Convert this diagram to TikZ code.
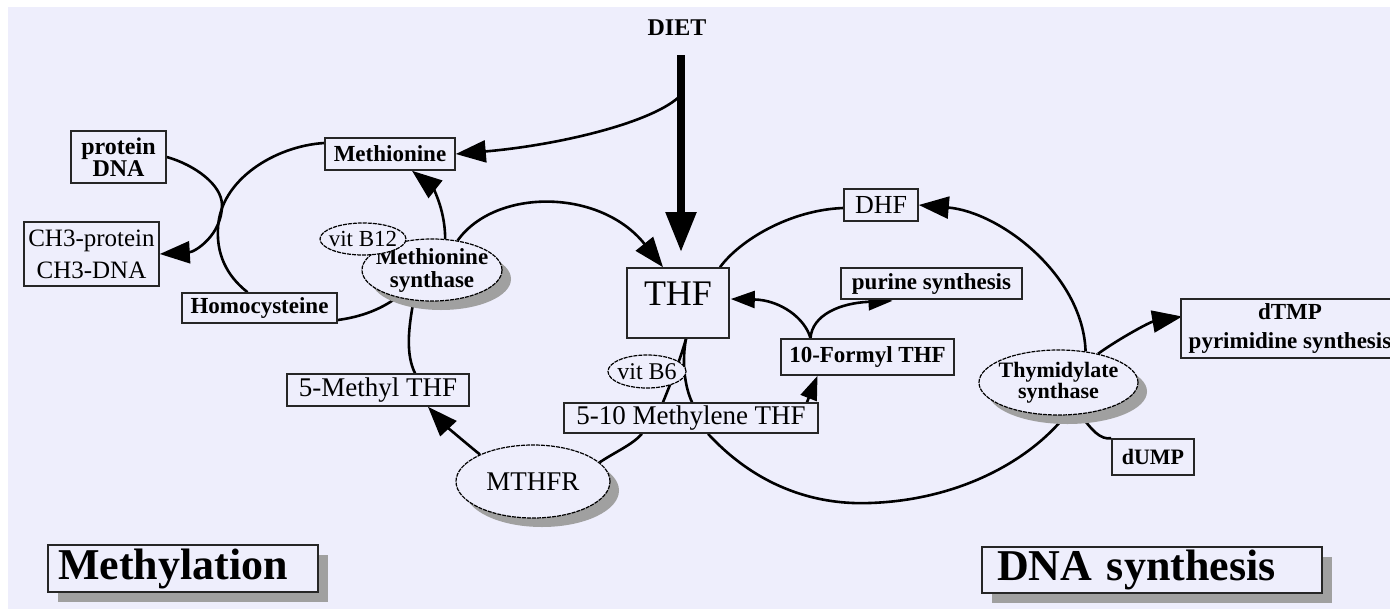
\documentclass[tikz,border=0pt]{standalone}
\usepackage{fontspec}
\setmainfont{Liberation Serif}
\usetikzlibrary{shapes.geometric,arrows.meta,shadows,calc}
\pgfdeclarelayer{bg}
\pgfdeclarelayer{links}
\pgfsetlayers{bg,links,main}
\definecolor{paper}{RGB}{238,238,252}
\definecolor{shade}{RGB}{160,160,160}
\tikzset{
  box/.style={draw=black!85, line width=1.6pt, fill=paper, inner sep=0pt, align=center},
  enzyme/.style={ellipse, draw, line width=1.2pt, dash pattern=on 4pt off 1pt, fill=paper, align=center,
    drop shadow={shadow xshift=9pt, shadow yshift=-9pt, fill=shade, opacity=1}},
  cofactor/.style={ellipse, draw, line width=1.2pt, dash pattern=on 4pt off 1pt, fill=paper},
  areatitle/.style={box, align=left, font=\fontsize{44}{44}\selectfont\bfseries,
    drop shadow={shadow xshift=10pt, shadow yshift=-10pt, fill=shade, opacity=1}},
  link/.style={line width=2.6pt},
  arr/.style={link, -{Triangle[length=30pt,width=22pt]}},
  sarr/.style={link, -{Triangle[length=24pt,width=17pt]}},
}
\begin{document}
\begin{tikzpicture}[x=1pt,y=-1pt]
  \useasboundingbox (0,0) rectangle (1390,608);
  \begin{pgfonlayer}{bg}
    \fill[paper] (8,7) rectangle (1400,615);
  \end{pgfonlayer}

  % methylation side
  \node[font=\fontsize{24}{24}\selectfont\bfseries] (diet) at (677,28) {DIET};
  \node[box, minimum width=95pt, minimum height=52pt, font=\fontsize{24}{22}\selectfont\bfseries] (protein) at (118.5,157) {protein\\DNA};
  \node[box, minimum width=135pt, minimum height=64pt, font=\fontsize{25}{32}\selectfont] (ch3) at (91.5,254) {CH3-protein\\CH3-DNA};
  \node[box, minimum width=130pt, minimum height=32pt, font=\fontsize{23}{23}\selectfont\bfseries] (methionine) at (390,154) {Methionine};
  \node[box, minimum width=155pt, minimum height=30pt, font=\fontsize{23}{23}\selectfont\bfseries] (homocys) at (259.5,308) {Homocysteine};
  \node[enzyme, minimum width=140pt, minimum height=62pt, inner xsep=-8pt, inner ysep=-2pt, font=\fontsize{23}{23}\selectfont\bfseries] (metsyn) at (432,270) {Methionine\\synthase};
  \node[cofactor, minimum width=86pt, minimum height=32pt, inner xsep=-5pt, font=\fontsize{23}{23}\selectfont] (b12) at (363,239) {vit B12};
  \node[box, minimum width=182pt, minimum height=32pt, font=\fontsize{27}{27}\selectfont] (methylthf) at (378,390) {5-Methyl THF};
  \node[enzyme, minimum width=154pt, minimum height=73pt, font=\fontsize{27}{27}\selectfont] (mthfr) at (533,481.5) {MTHFR};

  % folate cycle
  \node[box, minimum width=102pt, minimum height=70pt, text depth=19pt, font=\fontsize{36}{36}\selectfont] (thf) at (678,303) {THF};
  \node[cofactor, minimum width=78pt, minimum height=33pt, inner xsep=-4pt, font=\fontsize{24}{24}\selectfont] (b6) at (647,371.5) {vit B6};
  \node[box, minimum width=254pt, minimum height=30pt, font=\fontsize{27}{27}\selectfont] (methylene) at (691,418) {5-10 Methylene THF};
  \node[box, minimum width=173pt, minimum height=36pt, font=\fontsize{23}{23}\selectfont\bfseries] (formyl) at (867.5,357) {10-Formyl THF};
  \node[box, minimum width=181pt, minimum height=31pt, font=\fontsize{23}{23}\selectfont\bfseries] (purine) at (931.5,283.5) {purine synthesis};
  \node[box, minimum width=74pt, minimum height=32pt, font=\fontsize{26}{26}\selectfont] (dhf) at (881,205) {DHF};
  \node[enzyme, minimum width=159pt, minimum height=65pt, inner xsep=-5pt, inner ysep=-2pt, font=\fontsize{22}{21}\selectfont\bfseries] (thysyn) at (1058.5,382.5) {Thymidylate\\synthase};
  \node[box, minimum width=218pt, minimum height=59pt, font=\fontsize{23}{29}\selectfont\bfseries] (dtmp) at (1290,328.5) {dTMP\\pyrimidine synthesis};
  \node[box, minimum width=82pt, minimum height=36pt, font=\fontsize{22}{22}\selectfont\bfseries] (dump) at (1153,457) {dUMP};

  \node[areatitle, text width=250pt, inner xsep=10pt, minimum height=47pt] (methylation) at (183,568.5) {Methylation};
  \node[areatitle, text width=310pt, inner xsep=15pt, minimum height=46pt] (dnasyn) at (1152,570) {DNA synthesis};

  \begin{pgfonlayer}{links}
    \coordinate (dietfoot) at (681,55);
    \coordinate (dietfork) at (681,95);
    \draw[line width=8pt, -{Triangle[length=40pt,width=29pt]}, shorten >=15pt] (dietfoot) -- (dietfoot |- thf.north);
    \draw[arr] (dietfork) .. controls (655,122) and (560,145) .. (methionine.east);

    % methionine cycle
    \draw[link] ($(methionine.west)+(0,-11)$) .. controls (275,146) and (220,180) .. (218,228)
      .. controls (216,260) and (232,280) .. ($(homocys.north)+(-12,0)$);
    \draw[arr] (protein.east) .. controls (195,165) and (222,185) .. (222,205)
      .. controls (222,235) and (195,252) .. (ch3.east);
    \draw[link] ($(homocys.east)+(0,12)$) .. controls (360,317) and (380,310) .. (metsyn.218);
    \draw[arr] (metsyn.67) .. controls (445,205) and (430,185) .. ($(methionine.south)+(22,0)$);
    \draw[arr] (metsyn.49) .. controls (495,188) and (600,188) .. ($(thf.north)+(-15,0)$);
    \draw[link] (metsyn.239) .. controls (408,330) and (406,355) .. ($(methylthf.north)+(37,0)$);
    \draw[arr] (mthfr.153) .. controls (462,440) and (445,425) .. ($(methylthf.south)+(50,0)$);
    \draw[link] (mthfr.16) .. controls (615,452) and (632,445) .. ($(methylene.south)+(-49,0)$);

    % folate cycle
    \draw[link] ($(methylene.north)+(-28,0)$) .. controls (672,380) and (680,360) .. ($(thf.south)+(8,0)$);
    \draw[link] ($(methylene.north)+(1,0)$) .. controls (684,385) and (682,360) .. ($(thf.south)+(8,0)$);
    \draw[sarr] ($(methylene.north)+(116,0)$) -- ($(formyl.south)+(-50,0)$);
    \draw[sarr] ($(formyl.north)+(-57,0)$) .. controls (805,318) and (780,300) .. ($(thf.east)+(1,-4)$);
    \draw[sarr] ($(formyl.north)+(-57,0)$) .. controls (812,315) and (840,303) .. ($(purine.south)+(-39,1)$);
    \draw[link] ($(methylene.south)+(17,0)$) .. controls (760,490) and (820,505) .. (870,503)
      .. controls (960,500) and (1030,460) .. (thysyn.282);
    \draw[link] ($(thf.north)+(42,0)$) .. controls (740,240) and (790,210) .. ($(dhf.west)+(0,3)$);
    \draw[arr] (thysyn.49) .. controls (1083,275) and (1000,212) .. (dhf.east);
    \draw[arr] (thysyn.36) .. controls (1120,338) and (1150,322) .. ($(dtmp.west)+(2,-12)$);
    \draw[link] (thysyn.304) .. controls (1092,430) and (1100,440) .. (dump.north west);
  \end{pgfonlayer}
\end{tikzpicture}
\end{document}
